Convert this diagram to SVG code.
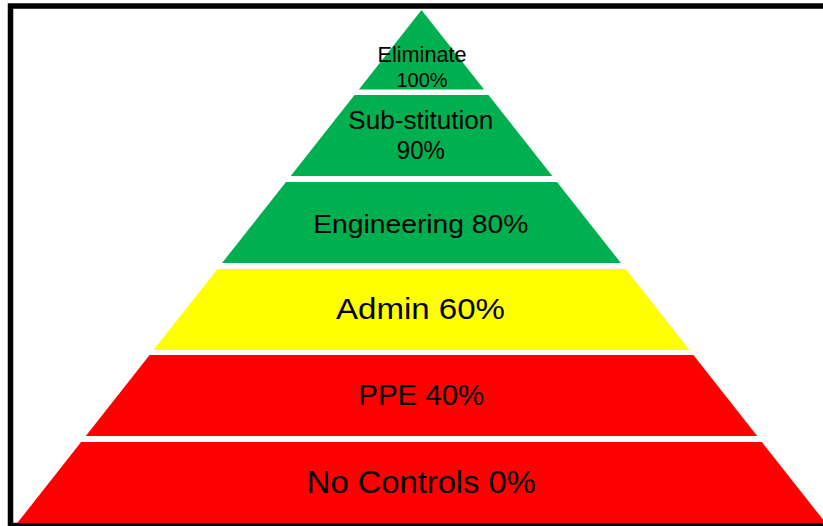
<svg xmlns="http://www.w3.org/2000/svg" width="823" height="526" viewBox="0 0 823 526">
<style>
.lbl{font-family:"Liberation Sans",Arial,sans-serif;fill:#000;text-anchor:middle}
.g{fill:#00B050}.y{fill:#FFFF00}.r{fill:#FF0000}
</style>
<rect x="0" y="0" width="823" height="526" fill="#fff"/>
<rect x="10.5" y="6" width="840" height="519.5" fill="none" stroke="#000" stroke-width="5.5"/>
<g id="eliminate">
<polygon class="g" points="421.5,10 484.1,89.5 358.9,89.5"/>
<text class="lbl" x="422" y="61.7" font-size="21.5" textLength="89" lengthAdjust="spacingAndGlyphs">Eliminate</text>
<text class="lbl" x="422" y="87.3" font-size="20.5" textLength="51" lengthAdjust="spacingAndGlyphs">100%</text>
</g>
<g id="substitution">
<polygon class="g" points="354.5,95 488.5,95 552.3,176 290.7,176"/>
<text class="lbl" x="420.8" y="129.3" font-size="25.5" textLength="145" lengthAdjust="spacingAndGlyphs">Sub-stitution</text>
<text class="lbl" x="420.8" y="159.3" font-size="25.5" textLength="48" lengthAdjust="spacingAndGlyphs">90%</text>
</g>
<g id="engineering">
<polygon class="g" points="286,182 557,182 620.9,263 222.1,263"/>
<text class="lbl" x="420.8" y="232.7" font-size="25" textLength="215" lengthAdjust="spacingAndGlyphs">Engineering 80%</text>
</g>
<g id="admin">
<polygon class="y" points="217.4,269 625.6,269 689.4,350 153.6,350"/>
<text class="lbl" x="420.5" y="319.3" font-size="29.5" textLength="169" lengthAdjust="spacingAndGlyphs">Admin 60%</text>
</g>
<g id="ppe">
<polygon class="r" points="149.6,355 693.4,355 757.2,436 85.8,436"/>
<text class="lbl" x="421.3" y="405" font-size="29" textLength="126" lengthAdjust="spacingAndGlyphs">PPE 40%</text>
</g>
<g id="no-controls">
<polygon class="r" points="81.1,442 761.9,442 825.7,523 17.3,523"/>
<text class="lbl" x="421.3" y="492.7" font-size="31" textLength="229" lengthAdjust="spacingAndGlyphs">No Controls 0%</text>
</g>
<g id="connectors"/>
</svg>
